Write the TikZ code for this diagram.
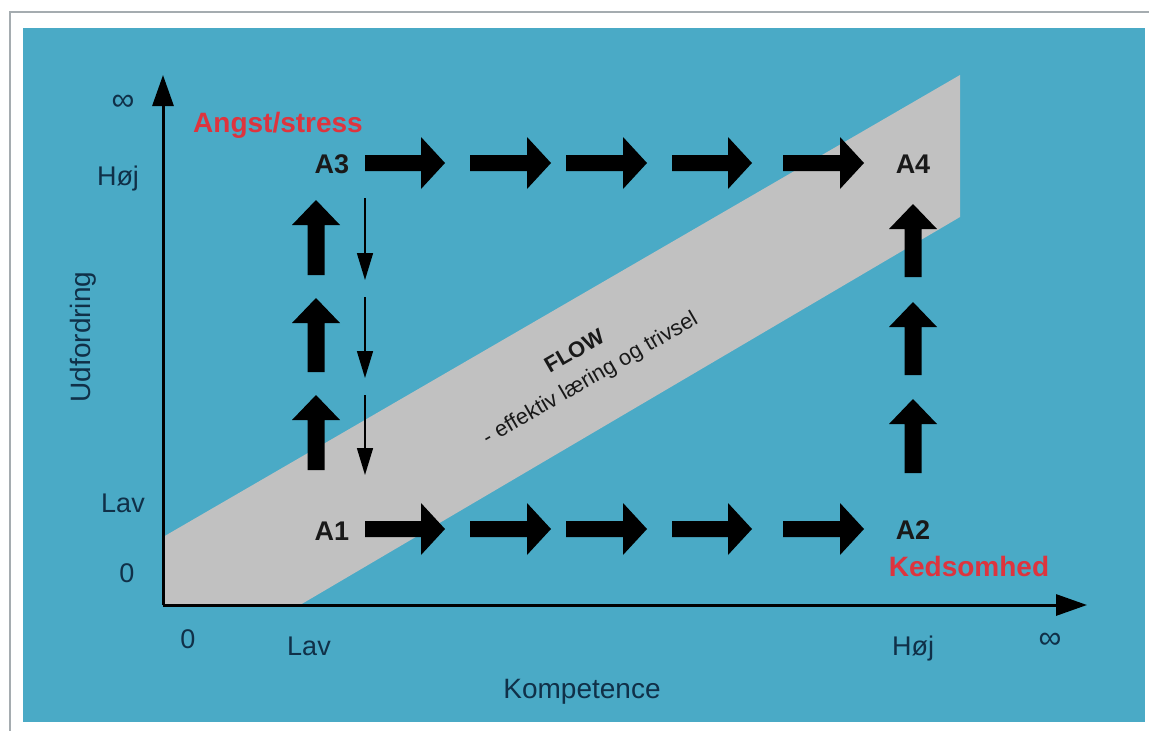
\documentclass[tikz,border=0pt]{standalone}
\usepackage{fontspec}
\setmainfont{Liberation Sans}
\usetikzlibrary{arrows.meta}
\definecolor{bgblue}{RGB}{74,170,198}
\definecolor{bandgray}{RGB}{193,193,193}
\definecolor{labelnavy}{RGB}{16,48,72}
\definecolor{alarmred}{RGB}{222,52,62}
\definecolor{framegray}{RGB}{165,172,176}
\tikzset{
  pics/hblk/.style={code={\fill[black] (0,-8) -- (#1-24,-8) -- (#1-24,-26) -- (#1,0) -- (#1-24,26) -- (#1-24,8) -- (0,8) -- cycle;}},
  pics/vblk/.style={code={\fill[black] (0,-8.5) -- (#1-25,-8.5) -- (#1-25,-24) -- (#1,0) -- (#1-25,24) -- (#1-25,8.5) -- (0,8.5) -- cycle;}}
}
\begin{document}
\begin{tikzpicture}[x=1pt,y=-1pt,
  lbl/.style={text=labelnavy, font=\fontsize{27}{32}\selectfont, inner sep=0pt},
  inflbl/.style={text=labelnavy, font=\fontsize{32}{36}\selectfont, inner sep=0pt},
  axtitle/.style={text=labelnavy, font=\fontsize{28}{32}\selectfont, inner sep=0pt},
  stage/.style={text=black!90, font=\bfseries\fontsize{27}{32}\selectfont, inner sep=0pt},
  zone/.style={text=alarmred, font=\bfseries\fontsize{28}{32}\selectfont, inner sep=0pt},
  flowtxt/.style={text=black!90, font=\fontsize{22}{31}\selectfont, inner sep=0pt, rotate=30, align=center},
  axisline/.style={line width=3pt, -{Triangle[length=31pt,width=21pt]}},
  thinarrow/.style={line width=1.5pt, -{Triangle[length=27pt,width=16pt]}}
]
\useasboundingbox (0,0) rectangle (1149,731);
\fill[white] (0,0) rectangle (1149,731);
\draw[framegray, line width=2pt] (10,731) -- (10,12) -- (1149,12);
\fill[bgblue] (23,28) rectangle (1145,722);
% flow band
\fill[bandgray] (163,537) -- (960,75) -- (960,217) -- (300,605) -- (163,605) -- cycle;
% axes
\coordinate (O) at (163,605);
\coordinate (ytip) at (163,75);
\coordinate (xtip) at (1087,605);
\draw[axisline] (O) -- (ytip);
\draw[axisline] (O) -- (xtip);
% axis labels
\node[inflbl] (yinf) at (123,103) {∞};
\node[lbl, anchor=base] (yhigh) at (118,185) {Høj};
\node[lbl, anchor=base] (ylow) at (123,512) {Lav};
\node[lbl, anchor=base] (yzero) at (127,582) {0};
\node[lbl, anchor=base] (xzero) at (188,648) {0};
\node[lbl, anchor=base] (xlow) at (309,655) {Lav};
\node[lbl, anchor=base] (xhigh) at (913,655) {Høj};
\node[inflbl] (xinf) at (1050,641) {∞};
\node[axtitle, anchor=base] (xtitle) at (582,698) {Kompetence};
\node[axtitle, anchor=base, rotate=90] (ytitle) at (90,337) {Udfordring};
% zone labels
\node[zone, anchor=base] (angst) at (278,132) {Angst/stress};
\node[zone, anchor=base] (kedsom) at (969,576) {Kedsomhed};
% stages
\node[stage, anchor=base] (A3) at (332,173) {A3};
\node[stage, anchor=base] (A4) at (913,173) {A4};
\node[stage, anchor=base] (A1) at (332,540) {A1};
\node[stage, anchor=base] (A2) at (913,539) {A2};
% flow text
\node[flowtxt] (flow) at (583,366) {\textbf{FLOW}\\- effektiv læring og trivsel};
% top row block arrows
\foreach \xs/\len in {365/80,470/81,566/81,672/80,783/81}{
  \pic at (\xs,163) {hblk=\len};
}
% bottom row block arrows
\foreach \xs/\len in {365/80,470/81,566/81,672/80,783/81}{
  \pic at (\xs,529) {hblk=\len};
}
% left column up arrows
\foreach \yb/\len in {275/75,372/74,470/75}{
  \pic[rotate=90] at (316,\yb) {vblk=\len};
}
% right column up arrows
\foreach \yb/\len in {277/73,375/73,473/74}{
  \pic[rotate=90] at (913,\yb) {vblk=\len};
}
% thin down arrows
\coordinate (d1s) at (365,198); \coordinate (d1e) at (365,280);
\coordinate (d2s) at (365,297); \coordinate (d2e) at (365,378);
\coordinate (d3s) at (365,395); \coordinate (d3e) at (365,475);
\draw[thinarrow] (d1s) -- (d1e);
\draw[thinarrow] (d2s) -- (d2e);
\draw[thinarrow] (d3s) -- (d3e);
\end{tikzpicture}
\end{document}
